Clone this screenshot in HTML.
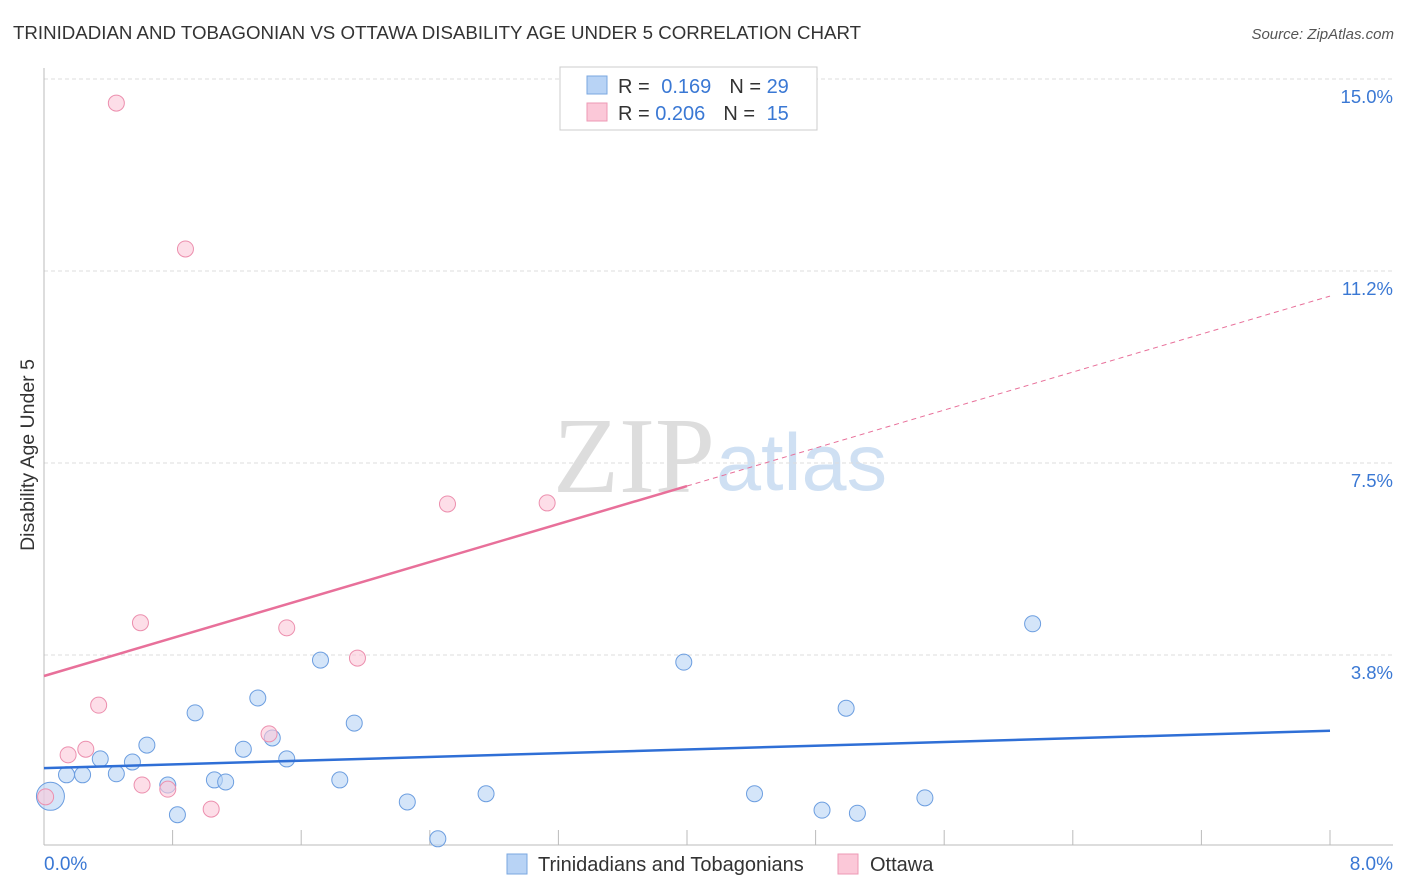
<!DOCTYPE html>
<html><head><meta charset="utf-8"><style>
body{margin:0;background:#fff;font-family:"Liberation Sans",sans-serif;}
svg{display:block}
</style></head><body>
<svg id="chart" width="1406" height="892" viewBox="0 0 1406 892" xmlns="http://www.w3.org/2000/svg">
<text x="13" y="39" font-size="18.7" fill="#333">TRINIDADIAN AND TOBAGONIAN VS OTTAWA DISABILITY AGE UNDER 5 CORRELATION CHART</text>
<text x="1394" y="39" font-size="15" fill="#555" font-style="italic" text-anchor="end">Source: ZipAtlas.com</text>
<text x="553" y="492" font-size="108" fill="#ddd" font-family="Liberation Serif">ZIP</text>
<text x="716" y="490" font-size="81" fill="#cfe0f3">atlas</text>
<g id="grid"></g>
<g id="axes"></g>
<text transform="translate(34,455) rotate(-90)" font-size="19.5" fill="#333" text-anchor="middle">Disability Age Under 5</text>
<g id="marks"></g>
<g>
<rect x="560" y="67" width="257" height="63" fill="#fff" stroke="#ccc"/>
<rect x="587" y="76" width="20" height="18" fill="#b8d3f5" stroke="#7aa7e0"/>
<rect x="587" y="103" width="20" height="18" fill="#fbc8d8" stroke="#ee99b5"/>
<text x="618" y="93" font-size="20" fill="#333">R = <tspan fill="#3a78d4" dx="6">0.169</tspan><tspan dx="18" fill="#333">N = </tspan><tspan fill="#3a78d4">29</tspan></text>
<text x="618" y="120" font-size="20" fill="#333">R = <tspan fill="#3a78d4">0.206</tspan><tspan dx="18" fill="#333">N = </tspan><tspan fill="#3a78d4" dx="6">15</tspan></text>
</g>
<g>
<rect x="507" y="854" width="20" height="20" fill="#b8d3f5" stroke="#7aa7e0"/>
<text x="538" y="871" font-size="20" fill="#333">Trinidadians and Tobagonians</text>
<rect x="838" y="854" width="20" height="20" fill="#fbc8d8" stroke="#ee99b5"/>
<text x="870" y="871" font-size="20" fill="#333">Ottawa</text>
</g>
</svg>
<script>
const blueX=[0.04,0.14,0.24,0.35,0.45,0.55,0.64,0.77,0.83,0.94,1.06,1.13,1.24,1.33,1.42,1.51,1.72,1.84,1.93,2.26,2.45,2.75,3.98,4.42,4.84,4.99,5.06,5.48,6.15];
const blueY=[0.99,1.41,1.41,1.72,1.43,1.66,1.99,1.21,0.63,2.62,1.31,1.27,1.91,2.91,2.13,1.72,3.65,1.31,2.42,0.88,0.16,1.04,3.61,1.04,0.72,2.71,0.66,0.96,4.36];
const pinkX=[0.01,0.15,0.26,0.34,0.45,0.60,0.61,0.77,0.88,1.04,1.40,1.51,1.95,2.51,3.13];
const pinkY=[0.98,1.80,1.91,2.77,14.53,4.38,1.21,1.13,11.68,0.74,2.21,4.28,3.69,6.70,6.72];
const yTicks=[3.75,7.5,11.25,15];
const yTickLabels=["3.8%","7.5%","11.2%","15.0%"];
const xTicks=[0,0.8,1.6,2.4,3.2,4.0,4.8,5.6,6.4,7.2,8.0];
const blueTrend=[1.54,2.27];
const pinkTrend=[3.34,10.76];
const NS="http://www.w3.org/2000/svg";
const xs=v=>44+v*160.75, ys=v=>847-v*51.2;
function mk(t,a,p){const e=document.createElementNS(NS,t);for(const k in a)e.setAttribute(k,a[k]);p.appendChild(e);return e;}
const grid=document.getElementById('grid'),axes=document.getElementById('axes'),marks=document.getElementById('marks');
yTicks.forEach((t,i)=>{
 const l=mk('line',{x1:44,x2:1393,y1:ys(t),y2:ys(t),stroke:'#ddd','stroke-dasharray':'4,3'},grid);
 
 
 const tx=mk('text',{x:1393,y:ys(t)+24,'font-size':18.5,fill:'#3a78d4','text-anchor':'end'},axes);
 tx.textContent=yTickLabels[i];
 
 
});
const la=mk('line',{x1:44,x2:44,y1:68,y2:845,stroke:'#bbb'},axes);


const ba=mk('line',{x1:44,x2:1393,y1:845,y2:845,stroke:'#bbb'},axes);


xTicks.slice(1).forEach(t=>{
 const l=mk('line',{x1:xs(t),x2:xs(t),y1:830,y2:845,stroke:'#bbb'},axes);
 
 
});
const x0=mk('text',{x:44,y:870,'font-size':19,fill:'#3a78d4'},axes);x0.textContent="0.0%";


const x1=mk('text',{x:1393,y:870,'font-size':19,fill:'#3a78d4','text-anchor':'end'},axes);x1.textContent="8.0%";


blueX.forEach((x,i)=>{
 const c=mk('circle',{cx:xs(x),cy:ys(blueY[i]),r:i==0?14:8,fill:'rgba(184,211,245,0.6)',stroke:'#6c9ee0','stroke-width':1},marks);
 
 
});
pinkX.forEach((x,i)=>{
 const c=mk('circle',{cx:xs(x),cy:ys(pinkY[i]),r:8,fill:'rgba(251,200,216,0.6)',stroke:'#ec8fae','stroke-width':1},marks);
 
 
});
const bt=mk('line',{x1:xs(0),y1:ys(blueTrend[0]),x2:xs(8),y2:ys(blueTrend[1]),stroke:'#2f6fd6','stroke-width':2.5},marks);


const pm=pinkTrend[0]+(pinkTrend[1]-pinkTrend[0])*4/8;
const ps=mk('line',{x1:xs(0),y1:ys(pinkTrend[0]),x2:xs(4),y2:ys(pm),stroke:'#e8709a','stroke-width':2.5},marks);


const pd=mk('line',{x1:xs(4),y1:ys(pm),x2:xs(8),y2:ys(pinkTrend[1]),stroke:'#e8709a','stroke-width':1,'stroke-dasharray':'5,4'},marks);


</script>
</body></html>
